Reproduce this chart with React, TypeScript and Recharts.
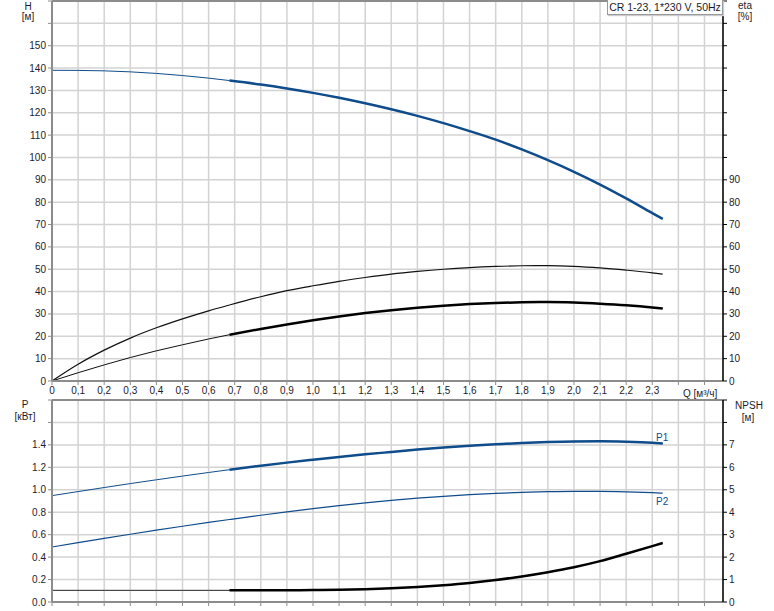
import React from 'react';
import { ComposedChart, Line, XAxis, YAxis, CartesianGrid, ReferenceLine } from 'recharts';

// flow points [m3/h]
const Q = [0, 0.1, 0.2, 0.3, 0.4, 0.5, 0.6, 0.68, 0.8, 0.9, 1.0, 1.1, 1.2, 1.3, 1.4, 1.5, 1.6, 1.7, 1.8, 1.9, 2.0, 2.1, 2.2, 2.3, 2.34];
const H = [139, 138.95, 138.75, 138.3, 137.6, 136.65, 135.5, 134.4, 132.6, 130.85, 128.9, 126.7, 124.25, 121.55, 118.6, 115.35, 111.8, 108.0, 103.6, 98.8, 93.6, 87.9, 81.7, 75.1, 72.5];
const ETA_UP = [0, 7.5, 13.8, 19.2, 23.8, 27.8, 31.4, 34.0, 37.7, 40.4, 42.6, 44.6, 46.3, 47.8, 49.0, 50.0, 50.75, 51.25, 51.55, 51.6, 51.3, 50.6, 49.6, 48.4, 47.8];
const ETA_LOW = [0, 3.7, 7.2, 10.5, 13.5, 16.2, 18.8, 20.7, 23.3, 25.3, 27.2, 28.9, 30.4, 31.7, 32.8, 33.7, 34.4, 34.9, 35.2, 35.3, 35.1, 34.6, 33.9, 32.9, 32.4];
const P1 = [0.948, 0.984, 1.02, 1.055, 1.089, 1.122, 1.154, 1.179, 1.214, 1.242, 1.268, 1.293, 1.316, 1.337, 1.358, 1.376, 1.392, 1.405, 1.417, 1.426, 1.431, 1.432, 1.428, 1.419, 1.413];
const P2 = [0.49, 0.529, 0.567, 0.604, 0.64, 0.675, 0.709, 0.735, 0.773, 0.803, 0.832, 0.859, 0.884, 0.906, 0.925, 0.942, 0.956, 0.968, 0.977, 0.983, 0.986, 0.986, 0.982, 0.974, 0.97];
const NPSH = [0.52, 0.52, 0.52, 0.52, 0.52, 0.52, 0.52, 0.52, 0.52, 0.525, 0.53, 0.545, 0.57, 0.61, 0.67, 0.75, 0.85, 0.98, 1.14, 1.33, 1.55, 1.82, 2.15, 2.49, 2.63];

const Q_TICKS = [0, 0.1, 0.2, 0.3, 0.4, 0.5, 0.6, 0.7, 0.8, 0.9, 1.0, 1.1, 1.2, 1.3, 1.4, 1.5, 1.6, 1.7, 1.8, 1.9, 2.0, 2.1, 2.2, 2.3, 2.4, 2.5];
const H_TICKS = [0, 10, 20, 30, 40, 50, 60, 70, 80, 90, 100, 110, 120, 130, 140, 150, 160, 170];
const P_TICKS = [0, 0.2, 0.4, 0.6, 0.8, 1.0, 1.2, 1.4, 1.6, 1.8];
const NPSH_TICKS = [0, 1, 2, 3, 4, 5, 6, 7, 8, 9];

const DUTY_START = 0.68;

const rows = Q.map((q, i) => ({
  q, h: H[i], etaUp: ETA_UP[i], etaLow: ETA_LOW[i], p1: P1[i], p2: P2[i], npsh: NPSH[i],
}));
const dutyRows = rows.filter(r => r.q >= DUTY_START);

const BLUE = '#0f4c8c';
const GRID = '#d3d3d3';
const AXIS = '#8c8c8c';
const TXT = '#1c1c2c';
const FONT = '"Liberation Sans", Arial, sans-serif';
const tickStyle = { fill: TXT, fontSize: 10, fontFamily: FONT };

const qLabel = (v: number) => (v > 2.35 ? '' : v === 0 ? '0' : v.toFixed(1).replace('.', ','));

const W = 774;

const App: React.FC = () => {
  return (
    <div style={{ position: 'absolute', left: 0, top: 0, width: W, height: 611, background: '#fff', fontFamily: FONT }}>
      <div style={{ position: 'absolute', left: 0, top: 0 }}>
        <ComposedChart width={W} height={400} data={rows} margin={{ top: 1, right: 0, bottom: 0, left: 0 }}>
          <CartesianGrid stroke={GRID} strokeWidth={1.5} yAxisId="h" />
          <XAxis dataKey="q" type="number" domain={[0, 2.571]} ticks={Q_TICKS} height={19}
            tickFormatter={qLabel} tick={tickStyle} tickSize={4} tickMargin={2}
            axisLine={{ stroke: AXIS, strokeWidth: 2 }} tickLine={{ stroke: AXIS }} interval={0} allowDataOverflow />
          <YAxis yAxisId="h" orientation="left" width={52} domain={[0, 170]} ticks={H_TICKS} interval={0}
            tickFormatter={(v: number) => (v > 150 ? '' : String(v))} tick={tickStyle} tickSize={4} tickMargin={2}
            axisLine={{ stroke: AXIS, strokeWidth: 2 }} tickLine={{ stroke: AXIS }} />
          <YAxis yAxisId="eta" orientation="right" width={51} domain={[0, 170]} ticks={H_TICKS} interval={0}
            tickFormatter={(v: number) => (v > 90 ? '' : String(v))} tick={tickStyle} tickSize={4} tickMargin={2}
            axisLine={{ stroke: '#000', strokeWidth: 1.5 }} tickLine={{ stroke: '#000' }} />
          <ReferenceLine yAxisId="h" y={170} stroke={AXIS} strokeWidth={2} />

          <Line yAxisId="h" data={rows} dataKey="h" type="monotone" stroke={BLUE} strokeWidth={1} dot={false} isAnimationActive={false} />
          <Line yAxisId="h" data={dutyRows} dataKey="h" type="monotone" stroke={BLUE} strokeWidth={2.5} dot={false} isAnimationActive={false} />
          <Line yAxisId="eta" data={rows} dataKey="etaUp" type="monotone" stroke="#111" strokeWidth={1.2} dot={false} isAnimationActive={false} />
          <Line yAxisId="eta" data={rows} dataKey="etaLow" type="monotone" stroke="#111" strokeWidth={1} dot={false} isAnimationActive={false} />
          <Line yAxisId="eta" data={dutyRows} dataKey="etaLow" type="monotone" stroke="#000" strokeWidth={2.5} dot={false} isAnimationActive={false} />
        </ComposedChart>
      </div>

      <div style={{ position: 'absolute', left: 0, top: 398 }}>
        <ComposedChart width={W} height={213} data={rows} margin={{ top: 2, right: 0, bottom: 0, left: 0 }}>
          <CartesianGrid stroke={GRID} strokeWidth={1.5} yAxisId="p" />
          <XAxis dataKey="q" type="number" domain={[0, 2.571]} ticks={Q_TICKS} height={9}
            tickFormatter={() => ''} tick={tickStyle} tickSize={4} tickMargin={0}
            axisLine={{ stroke: AXIS, strokeWidth: 2 }} tickLine={{ stroke: AXIS }} interval={0} allowDataOverflow />
          <YAxis yAxisId="p" orientation="left" width={52} domain={[0, 1.8]} ticks={P_TICKS} interval={0}
            tickFormatter={(v: number) => (v > 1.45 ? '' : v.toFixed(1))} tick={tickStyle} tickSize={4} tickMargin={2}
            axisLine={{ stroke: AXIS, strokeWidth: 2 }} tickLine={{ stroke: AXIS }} />
          <YAxis yAxisId="npsh" orientation="right" width={51} domain={[0, 9]} ticks={NPSH_TICKS} interval={0}
            tickFormatter={(v: number) => (v > 7 ? '' : String(v))} tick={tickStyle} tickSize={4} tickMargin={2}
            axisLine={{ stroke: '#000', strokeWidth: 1.5 }} tickLine={{ stroke: '#000' }} />
          <ReferenceLine yAxisId="p" y={1.8} stroke={AXIS} strokeWidth={2} />

          <Line yAxisId="p" data={rows} dataKey="p1" type="monotone" stroke={BLUE} strokeWidth={1} dot={false} isAnimationActive={false} />
          <Line yAxisId="p" data={dutyRows} dataKey="p1" type="monotone" stroke={BLUE} strokeWidth={2.5} dot={false} isAnimationActive={false} />
          <Line yAxisId="p" data={rows} dataKey="p2" type="monotone" stroke={BLUE} strokeWidth={1.2} dot={false} isAnimationActive={false} />
          <Line yAxisId="npsh" data={rows} dataKey="npsh" type="monotone" stroke="#222" strokeWidth={1} dot={false} isAnimationActive={false} />
          <Line yAxisId="npsh" data={dutyRows} dataKey="npsh" type="monotone" stroke="#000" strokeWidth={2.5} dot={false} isAnimationActive={false} />
        </ComposedChart>
      </div>

      {/* axis titles and curve labels */}
      <svg width={W} height={611} style={{ position: 'absolute', left: 0, top: 0, pointerEvents: 'none' }}
        fontFamily={FONT} fontSize={10} fill={TXT}>
        <text x={28} y={10} textAnchor="middle">H</text>
        <text x={28} y={20} textAnchor="middle">[м]</text>
        <text x={745} y={9} textAnchor="middle">eta</text>
        <text x={745} y={20} textAnchor="middle">[%]</text>
        <text x={683} y={397}>Q [м³/ч]</text>
        <text x={25} y={408} textAnchor="middle">P</text>
        <text x={25} y={420} textAnchor="middle">[кВт]</text>
        <text x={749} y={409} textAnchor="middle">NPSH</text>
        <text x={748} y={421} textAnchor="middle">[м]</text>
        <text x={656} y={441} fill={BLUE}>P1</text>
        <text x={656} y={505} fill={BLUE}>P2</text>
      </svg>

      <div style={{
        position: 'absolute', left: 607, top: 0, width: 114, height: 14, border: '1px solid #999',
        borderTop: 'none', background: '#fff', boxShadow: '1px 1px 1px #ccc', fontSize: 10.5, color: TXT,
        lineHeight: '14px', textAlign: 'center', whiteSpace: 'nowrap',
      }}>
        CR 1-23, 1*230 V, 50Hz
      </div>
    </div>
  );
};

export default App;
